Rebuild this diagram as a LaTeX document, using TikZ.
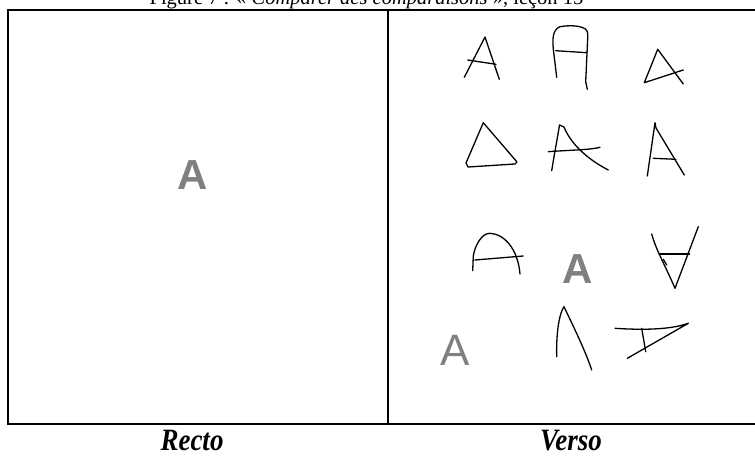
\documentclass[tikz,border=0pt]{standalone}
\usepackage{fontspec}
\setmainfont{Liberation Serif}
\newfontfamily\arialfont{Liberation Sans}
\begin{document}
\begin{tikzpicture}[x=1pt,y=-1pt,
  frameline/.style={line width=2pt},
  hand/.style={line width=1.3pt,line cap=round,line join=round},
  graybold/.style={anchor=base,inner sep=0pt,text=black!50,font=\arialfont\bfseries\fontsize{42}{42}\selectfont},
  grayreg/.style={anchor=base,inner sep=0pt,text=black!50,font=\arialfont\fontsize{44}{44}\selectfont},
  sidelabel/.style={anchor=base,inner sep=0pt,yscale=1.15,font=\bfseries\itshape\fontsize{27}{27}\selectfont},
  titletext/.style={anchor=base,inner sep=0pt,font=\fontsize{20.5}{20.5}\selectfont}]
\clip (0,0) rectangle (755,457);
\fill[white] (0,0) rectangle (755,457);
% title (top cut off)
\node[titletext] (title) at (366.5,4.5) {Figure 7 : « \textit{Comparer des comparaisons} », leçon 15};
% frame
\draw[frameline] (8,10) rectangle (760,424);
\draw[frameline] (388,10) -- (388,424);
% recto
\node[graybold] (rectoA) at (193,190) {A};
% verso handwritten shapes
\draw[hand] (464.3,77.3) -- (485,37) -- (499.3,79.3);
\draw[hand] (467.7,60) -- (496,64.3);
\draw[hand] (556.7,77.3) -- (554,55) .. controls (552,40) and (552,30) .. (560,26.7) .. controls (570,25) and (578,26) .. (582,27.3) .. controls (588,29) and (588,33) .. (587.7,38) -- (585.7,81.7) -- (587.3,89.3);
\draw[hand] (555.7,50.7) -- (586.7,52.7);
\draw[hand] (683.3,84) -- (657.7,49.3) -- (644.3,82.7) -- (683.3,70);
\draw[hand] (483.3,122.7) -- (466,163) -- (468,167) -- (515,164) -- (517,162) -- cycle;
\draw[hand] (551.7,170.7) .. controls (555,150) and (558,135) .. (559.5,125) -- (564,127) .. controls (570,142) and (585,158) .. (608.3,170);
\draw[hand] (548.3,151.7) .. controls (570,150) and (590,150) .. (600,147.3);
\draw[hand] (647.3,176) -- (655,122.7) -- (656,128) -- (684.3,175);
\draw[hand] (653.3,158.3) -- (676,159.3);
\draw[hand] (472.7,270.7) -- (473.3,256) .. controls (475,245) and (482,233) .. (490,233.3) .. controls (505,234) and (518,250) .. (520,274);
\draw[hand] (475,260) -- (523.3,256);
\node[graybold] (versoA1) at (578,283) {A};
\draw[hand] (651.7,234) .. controls (656,250) and (665,265) .. (675,288.3) -- (698.3,226.7);
\draw[hand,line width=2pt] (659.3,254.3) -- (689.3,254.3);
\draw[hand] (663.3,259.3) -- (666.7,265);
\node[grayreg] (versoA2) at (455.3,365.7) {A};
\draw[hand] (556.7,356.7) .. controls (556,330) and (560,312) .. (564,306.7) .. controls (575,330) and (585,350) .. (591.7,370);
\draw[hand] (615,328.3) .. controls (640,330) and (670,330) .. (688.3,323.3) -- (627.3,358.3);
\draw[hand] (641.7,328.3) -- (645.7,351.7);
% labels
\node[sidelabel] (recto) at (192,450) {Recto};
\node[sidelabel] (verso) at (571,450) {Verso};
\end{tikzpicture}
\end{document}
